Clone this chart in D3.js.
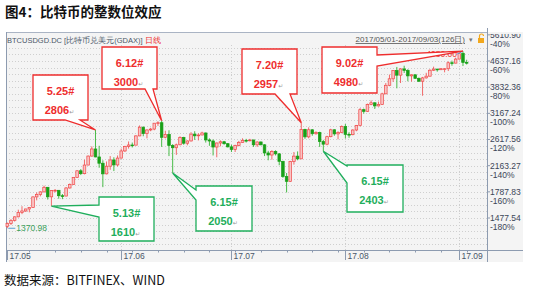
<!DOCTYPE html>
<html>
<head>
<meta charset="utf-8">
<script src="https://cdn.jsdelivr.net/npm/d3@7"></script>
<style>
  body { margin: 0; background: #fff; }
  svg { display: block; font-family: "Liberation Sans", Arial, sans-serif; }
</style>
</head>
<body>
<div class="canvas"></div>
<script>
// daily candles 2017/05/01 - 2017/09/03 (126 days)
const startDay = new Date(2017, 4, 1)
const opens = [
  1390, 1421, 1452, 1490, 1537, 1555, 1578, 1596, 1723, 1755, 1787, 1848, 1724, 1804, 1808, 1738,
  1734, 1839, 1888, 1987, 2084, 2041, 2173, 2320, 2443, 2305, 2202, 2038, 2155, 2255, 2175,
  2286, 2408, 2488, 2515, 2512, 2687, 2863, 2732, 2806, 2824, 2948, 2958, 2660, 2717, 2506, 2465,
  2519, 2656, 2548, 2590, 2722, 2689, 2705, 2745, 2609, 2589, 2478, 2552, 2575, 2539,
  2481, 2435, 2506, 2564, 2602, 2600, 2609, 2518, 2571, 2518, 2373, 2338, 2399, 2358, 2233, 1999,
  1930, 2228, 2319, 2273, 2818, 2668, 2810, 2730, 2755, 2577, 2530, 2672, 2809, 2727, 2757,
  2875, 2718, 2711, 2805, 2896, 3253, 3214, 3379, 3420, 3343, 3381, 3651, 3885, 4073, 4325, 4182,
  4377, 4332, 4161, 4194, 4088, 4002, 4100, 4152, 4335, 4372, 4352, 4372, 4383, 4579, 4565,
  4703, 4905, 4590
]
const highs = [
  1430, 1465, 1495, 1570, 1610, 1580, 1600, 1730, 1780, 1795, 1870, 1850, 1810, 1825, 1810, 1760,
  1850, 1900, 1990, 2090, 2110, 2260, 2330, 2490, 2806, 2500, 2250, 2230, 2320, 2300, 2330,
  2450, 2500, 2580, 2560, 2700, 2900, 2880, 2820, 2850, 2950, 2990, 3000, 2790, 2800, 2530, 2540,
  2680, 2670, 2600, 2760, 2780, 2740, 2770, 2755, 2640, 2620, 2560, 2600, 2590, 2550,
  2520, 2520, 2590, 2640, 2630, 2630, 2610, 2580, 2580, 2530, 2410, 2420, 2420, 2370, 2240, 2050,
  2240, 2390, 2400, 2957, 2830, 2860, 2820, 2780, 2770, 2610, 2690, 2830, 2820, 2780, 2900,
  2930, 2760, 2820, 2910, 3290, 3280, 3400, 3480, 3430, 3450, 3680, 3950, 4200, 4330, 4440, 4400,
  4480, 4370, 4200, 4200, 4110, 4130, 4255, 4370, 4450, 4380, 4400, 4400, 4625, 4650, 4750,
  4920, 4980, 4680
]
const lows = [
  1370.98, 1405, 1440, 1485, 1520, 1545, 1540, 1590, 1680, 1730, 1780, 1690, 1610, 1780, 1700, 1695,
  1730, 1830, 1885, 1980, 2020, 2030, 2170, 2310, 2300, 2130, 1850, 2030, 2100, 2080, 2150,
  2280, 2390, 2450, 2470, 2510, 2680, 2680, 2640, 2780, 2800, 2890, 2480, 2640, 2320, 2050, 2340,
  2510, 2520, 2510, 2580, 2610, 2600, 2700, 2560, 2500, 2330, 2300, 2490, 2520, 2470,
  2390, 2390, 2490, 2560, 2560, 2580, 2480, 2480, 2510, 2320, 2250, 2260, 2330, 2170, 1980, 1780,
  1925, 2180, 2250, 2270, 2630, 2640, 2690, 2710, 2480, 2403, 2510, 2660, 2690, 2620, 2740,
  2640, 2650, 2700, 2780, 2880, 3160, 3200, 3360, 3270, 3330, 3370, 3640, 3860, 3980, 3800, 3950,
  4250, 4000, 3990, 4070, 3980, 3600, 4080, 4140, 4310, 4290, 4340, 4270, 4310, 4480, 4560,
  4690, 4470, 4520
]
const closes = [
  1421, 1452, 1490, 1537, 1555, 1578, 1596, 1723, 1755, 1787, 1848, 1724, 1804, 1808, 1738, 1734,
  1839, 1888, 1987, 2084, 2041, 2173, 2320, 2443, 2305, 2202, 2038, 2155, 2255, 2175, 2286,
  2408, 2488, 2515, 2512, 2687, 2863, 2732, 2806, 2824, 2948, 2958, 2660, 2717, 2506, 2465, 2519,
  2656, 2548, 2590, 2722, 2689, 2705, 2745, 2609, 2589, 2478, 2552, 2575, 2539, 2481,
  2435, 2506, 2564, 2602, 2600, 2609, 2518, 2571, 2518, 2373, 2338, 2399, 2358, 2233, 1999, 1930,
  2228, 2319, 2273, 2818, 2668, 2810, 2730, 2755, 2577, 2530, 2672, 2809, 2727, 2757, 2875,
  2718, 2711, 2805, 2896, 3253, 3214, 3379, 3420, 3343, 3381, 3651, 3885, 4073, 4325, 4182, 4377,
  4332, 4161, 4194, 4088, 4002, 4100, 4152, 4335, 4372, 4352, 4383, 4383, 4579, 4565, 4703,
  4892, 4590, 4575
]

// right axis ticks
const yTickValues = [5610.90, 4637.16, 3832.36, 3167.24, 2617.56, 2163.27, 1787.83, 1477.54]
const yTickPct = ['-40%', '-60%', '-80%', '-100%', '-120%', '-140%', '-160%', '-180%']
const monthLabels = ['17.05', '17.06', '17.07', '17.08', '17.09']

// callouts
const noteTitles = ['5.25#', '6.12#', '7.20#', '9.02#', '5.13#', '6.15#', '6.15#']
const noteValues = ['2806', '3000', '2957', '4980', '1610', '2050', '2403']
const noteDays = ['2017-05-25', '2017-06-12', '2017-07-20', '2017-09-02', '2017-05-13', '2017-06-15', '2017-07-26']
const notePrices = [2806, 3000, 2957, 4980, 1610, 2050, 2403]
const noteKinds = ['high', 'high', 'high', 'high', 'low', 'low', 'low']

const width = 536
const height = 293
const plot = { left: 6, right: 487, top: 45, bottom: 250 }
const panel = { left: 6, right: 523, top: 32, bottom: 262 }

const red = '#ee2d2d'
const green = '#1fae5c'

const svg = d3.select('.canvas').append('svg')
    .attr('width', width)
    .attr('height', height)

// title + source
svg.append('text')
    .attr('x', 5).attr('y', 17)
    .attr('font-family', '"Noto Sans CJK SC", sans-serif')
    .attr('font-size', 13.5)
    .attr('font-weight', 'bold')
    .attr('fill', '#111')
    .text('图4：比特币的整数位效应')

svg.append('text')
    .attr('x', 4).attr('y', 285)
    .attr('font-family', '"Noto Sans CJK SC", sans-serif')
    .attr('font-size', 12.5)
    .attr('fill', '#111')
    .text('数据来源：BITFINEX、WIND')

// panel background
svg.append('rect')
    .attr('x', panel.left).attr('y', panel.top)
    .attr('width', panel.right - panel.left)
    .attr('height', panel.bottom - panel.top)
    .attr('fill', '#f4f4f4')

svg.append('line')
    .attr('x1', panel.left).attr('x2', plot.right)
    .attr('y1', panel.top + 0.5).attr('y2', panel.top + 0.5)
    .attr('stroke', '#aab4c4')

// scales
const days = d3.timeDay.range(startDay, d3.timeDay.offset(startDay, opens.length))
const x = d3.scaleTime()
    .domain([new Date(2017, 4, 1), new Date(2017, 8, 1)])
    .range([7.3, 459.3])
const y = d3.scaleLog()
    .domain([1477.54, 4637.16])
    .range([218, 61])

const candles = days.map((d, i) => ({
    date: d, open: opens[i], high: highs[i], low: lows[i], close: closes[i]
}))

// gridlines: major ticks + 3 sub-steps in log space
const gridVals = []
yTickValues.forEach((v, i) => {
    const next = yTickValues[i + 1]
    gridVals.push(v)
    if (next) {
        for (let k = 1; k < 4; k++) gridVals.push(v * Math.pow(next / v, k / 4))
    } else {
        for (let k = 1; k < 6; k++) gridVals.push(v * Math.pow(1477.54 / 1787.83, k / 4))
    }
})

const grid = svg.append('g')
grid.selectAll('line.h')
    .data(gridVals.filter(v => y(v) > plot.top && y(v) < plot.bottom))
    .enter().append('line')
    .attr('class', 'h')
    .attr('x1', plot.left).attr('x2', plot.right)
    .attr('y1', d => Math.round(y(d)) + 0.5)
    .attr('y2', d => Math.round(y(d)) + 0.5)
    .attr('stroke', '#cfcfcf')
    .attr('stroke-dasharray', '1,2')

const months = d3.timeMonth.range(new Date(2017, 4, 1), new Date(2017, 8, 2))
grid.selectAll('line.v')
    .data(months.slice(1))
    .enter().append('line')
    .attr('class', 'v')
    .attr('x1', d => Math.round(x(d)) + 0.5)
    .attr('x2', d => Math.round(x(d)) + 0.5)
    .attr('y1', plot.top).attr('y2', plot.bottom)
    .attr('stroke', '#cfcfcf')
    .attr('stroke-dasharray', '1,2')

// frame lines
svg.append('line')
    .attr('x1', plot.left + 0.5).attr('x2', plot.left + 0.5)
    .attr('y1', panel.top).attr('y2', panel.bottom)
    .attr('stroke', '#8d9bb0')
svg.append('line')
    .attr('x1', plot.right + 0.5).attr('x2', plot.right + 0.5)
    .attr('y1', panel.top - 4).attr('y2', panel.bottom)
    .attr('stroke', '#8d9bb0')
svg.append('line')
    .attr('x1', plot.left).attr('x2', panel.right)
    .attr('y1', plot.bottom + 0.5).attr('y2', plot.bottom + 0.5)
    .attr('stroke', '#8d9bb0')

// header row
const header = svg.append('text')
    .attr('x', 7).attr('y', 42.5)
    .attr('font-size', 7.5)
    .attr('fill', '#4a5668')
header.append('tspan').text('BTCUSDGD.DC [比特币兑美元(GDAX)] ')
header.append('tspan').attr('fill', red).text('日线')

svg.append('text')
    .attr('x', 465).attr('y', 42)
    .attr('text-anchor', 'end')
    .attr('font-size', 8)
    .attr('fill', '#555')
    .attr('text-decoration', 'underline')
    .text('2017/05/01-2017/09/03(126日)')
svg.append('text')
    .attr('x', 469).attr('y', 42)
    .attr('font-size', 7)
    .attr('fill', '#777')
    .text('▾')
svg.append('rect')
    .attr('x', 478).attr('y', 38).attr('width', 6).attr('height', 5)
    .attr('fill', '#f2a81d')
svg.append('path')
    .attr('d', 'M479.5,38 v-2 a2,2 0 0 1 4,0')
    .attr('fill', 'none').attr('stroke', '#f2a81d').attr('stroke-width', 1.2)

// candles
const candleW = 2.6
const g = svg.append('g')

g.selectAll('line.wick')
    .data(candles)
    .enter().append('line')
    .attr('class', 'wick')
    .attr('x1', d => x(d.date)).attr('x2', d => x(d.date))
    .attr('y1', d => y(d.high)).attr('y2', d => y(d.low))
    .attr('stroke', d => d.close >= d.open ? '#f05a5a' : '#36b536')
    .attr('stroke-width', 0.9)

g.selectAll('rect.body')
    .data(candles)
    .enter().append('rect')
    .attr('class', 'body')
    .attr('x', d => x(d.date) - candleW / 2)
    .attr('width', candleW)
    .attr('y', d => y(Math.max(d.open, d.close)))
    .attr('height', d => Math.max(0.8, Math.abs(y(d.open) - y(d.close))))
    .attr('fill', d => d.close >= d.open ? '#f9c4c4' : '#18a018')
    .attr('stroke', d => d.close >= d.open ? '#f04848' : '#18a018')
    .attr('stroke-width', 0.7)

// min / max markers
const minC = candles[d3.minIndex(candles, d => d.low)]
const maxC = candles[d3.maxIndex(candles, d => d.high)]
svg.append('line')
    .attr('x1', x(minC.date) + 1).attr('x2', x(minC.date) + 8)
    .attr('y1', y(minC.low)).attr('y2', y(minC.low))
    .attr('stroke', '#5aa0d0')
svg.append('text')
    .attr('x', x(minC.date) + 9).attr('y', y(minC.low) + 3)
    .attr('font-size', 8.5)
    .attr('fill', '#3aa05a')
    .text(d3.format('.2f')(minC.low))
svg.append('line')
    .attr('x1', x(maxC.date) - 6).attr('x2', x(maxC.date))
    .attr('y1', y(maxC.high) + 3).attr('y2', y(maxC.high))
    .attr('stroke', '#5aa0d0')
svg.append('text')
    .attr('x', x(maxC.date) - 6).attr('y', y(maxC.high) + 6)
    .attr('text-anchor', 'end')
    .attr('font-size', 8.5)
    .attr('fill', red)
    .text(d3.format('.2f')(maxC.high))

// right axis
const axisClip = svg.append('clipPath').attr('id', 'axclip')
axisClip.append('rect')
    .attr('x', plot.right).attr('y', panel.top + 2)
    .attr('width', panel.right - plot.right).attr('height', plot.bottom - panel.top)

const yAxisGroup = svg.append('g').attr('clip-path', 'url(#axclip)')
const yTicks = yAxisGroup.selectAll('g')
    .data(yTickValues)
    .enter().append('g')
    .attr('transform', d => `translate(${plot.right}, ${y(d)})`)
yTicks.append('line')
    .attr('x1', 0).attr('x2', 3)
    .attr('stroke', '#8d9bb0')
yTicks.append('text')
    .attr('x', 3).attr('y', 3)
    .attr('font-size', 8.5)
    .attr('fill', '#3c4658')
    .text(d => d3.format('.2f')(d))
yTicks.append('text')
    .attr('x', 3).attr('y', 12)
    .attr('font-size', 8.5)
    .attr('fill', '#3c4658')
    .text((d, i) => yTickPct[i])

// bottom axis
const xAxisGroup = svg.append('g')
xAxisGroup.selectAll('line.minor')
    .data(d3.timeSunday.range(new Date(2017, 4, 2), new Date(2017, 8, 4)))
    .enter().append('line')
    .attr('class', 'minor')
    .attr('x1', d => Math.round(x(d)) + 0.5).attr('x2', d => Math.round(x(d)) + 0.5)
    .attr('y1', plot.bottom).attr('y2', plot.bottom + 2.5)
    .attr('stroke', '#8d9bb0')
const mt = xAxisGroup.selectAll('g.month')
    .data(months)
    .enter().append('g')
    .attr('class', 'month')
    .attr('transform', d => `translate(${Math.round(x(d)) + 0.5}, ${plot.bottom})`)
mt.append('line')
    .attr('y1', 0).attr('y2', 10)
    .attr('stroke', '#8d9bb0')
mt.append('text')
    .attr('x', 2).attr('y', 9)
    .attr('font-size', 8.5)
    .attr('fill', '#4a5668')
    .text((d, i) => monthLabels[i])

// callout boxes (layout only)
const noteBoxes = [
    { x: 33, y: 75, w: 55, h: 45, side: 'bottom', b1: 65, b2: 80 },
    { x: 102, y: 47, w: 55, h: 42, side: 'bottom', b1: 145, b2: 153 },
    { x: 242, y: 49, w: 55, h: 45, side: 'bottom', b1: 275, b2: 290 },
    { x: 322, y: 47, w: 55, h: 46, side: 'right', b1: 55, b2: 66 },
    { x: 99, y: 197, w: 55, h: 44, side: 'left', b1: 205, b2: 217 },
    { x: 196, y: 186, w: 56, h: 45, side: 'left', b1: 190, b2: 200 },
    { x: 347, y: 165, w: 56, h: 47, side: 'left', b1: 166, b2: 183 }
]

const notes = noteTitles.map((t, i) => ({
    title: t,
    value: noteValues[i],
    date: d3.timeParse('%Y-%m-%d')(noteDays[i]),
    price: notePrices[i],
    color: noteKinds[i] === 'high' ? red : green,
    box: noteBoxes[i]
}))

const calloutPath = (b, tx, ty) => {
    const p = d3.path()
    p.moveTo(b.x, b.y)
    p.lineTo(b.x + b.w, b.y)
    if (b.side === 'right') {
        p.lineTo(b.x + b.w, b.b1); p.lineTo(tx, ty); p.lineTo(b.x + b.w, b.b2)
    }
    p.lineTo(b.x + b.w, b.y + b.h)
    if (b.side === 'bottom') {
        p.lineTo(b.b2, b.y + b.h); p.lineTo(tx, ty); p.lineTo(b.b1, b.y + b.h)
    }
    p.lineTo(b.x, b.y + b.h)
    if (b.side === 'left') {
        p.lineTo(b.x, b.b2); p.lineTo(tx, ty); p.lineTo(b.x, b.b1)
    }
    p.closePath()
    return p.toString()
}

const note = svg.selectAll('g.note')
    .data(notes)
    .enter().append('g')
    .attr('class', 'note')

note.append('path')
    .attr('d', d => calloutPath(d.box, x(d.date), y(d.price)))
    .attr('fill', '#fff')
    .attr('stroke', d => d.color)
    .attr('stroke-width', 1.3)

note.append('text')
    .attr('x', d => d.box.x + d.box.w / 2)
    .attr('y', d => d.box.y + 20)
    .attr('text-anchor', 'middle')
    .attr('font-size', 11)
    .attr('font-weight', 'bold')
    .attr('fill', d => d.color)
    .text(d => d.title)

const valText = note.append('text')
    .attr('x', d => d.box.x + d.box.w / 2 - 1)
    .attr('y', d => d.box.y + 39)
    .attr('text-anchor', 'middle')
    .attr('font-size', 11)
    .attr('font-weight', 'bold')
    .attr('fill', d => d.color)
valText.append('tspan').text(d => d.value)
valText.append('tspan')
    .attr('font-size', 6)
    .attr('font-weight', 'normal')
    .attr('fill', '#999')
    .attr('font-family', '"DejaVu Sans", sans-serif')
    .text('↵')
</script>
</body>
</html>
